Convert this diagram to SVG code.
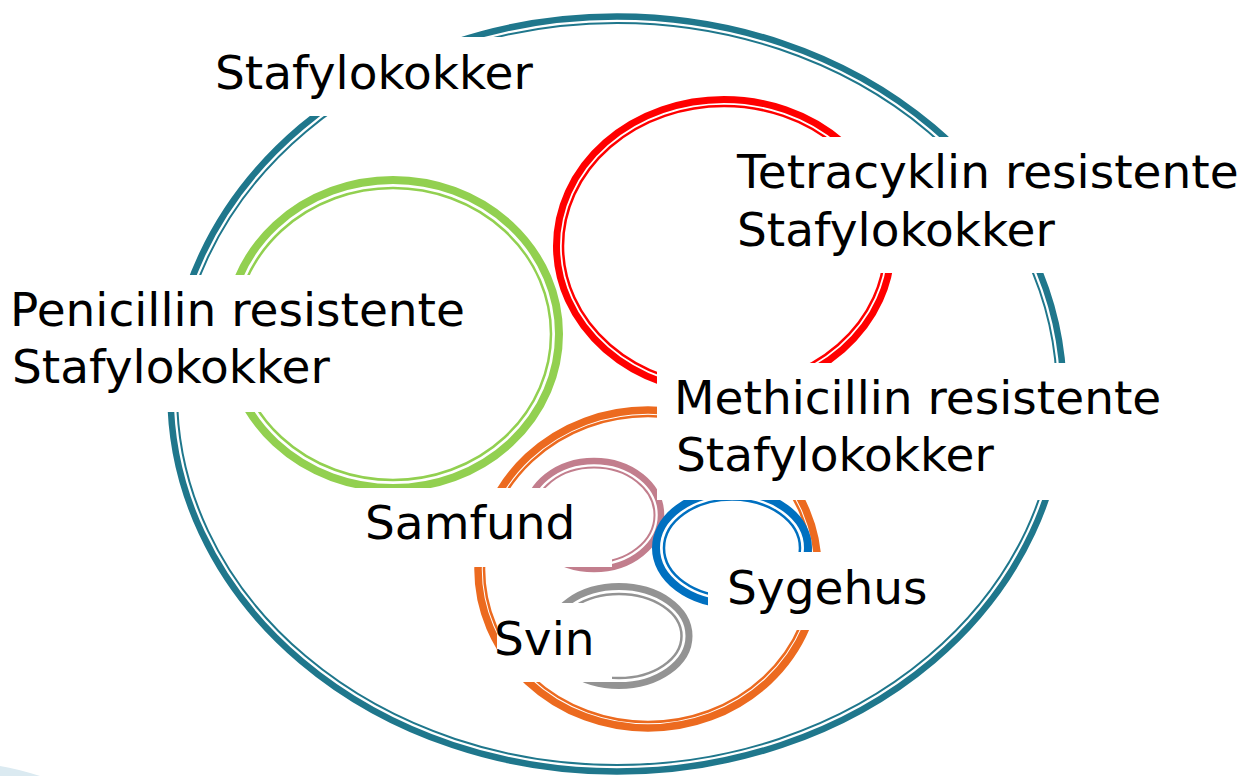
<svg xmlns="http://www.w3.org/2000/svg" width="1240" height="776" viewBox="0 0 1240 776">
<style>
.o{fill:none;stroke-width:7}
.i{fill:none;stroke-width:2.5}
.box{fill:#ffffff}
.lbl{font-family:"DejaVu Sans","Liberation Sans",sans-serif;font-size:47px;fill:#000000}
.teal{stroke:#1f778c}.green{stroke:#92d050}.red{stroke:#ff0000}.orange{stroke:#ec6a1f}.pink{stroke:#c27e8d}.blue{stroke:#0070c0}.gray{stroke:#939393}
</style>
<rect width="1240" height="776" fill="#ffffff"/>
<path d="M0,766 Q18,769 40,776 L0,776 Z" fill="#dbeaf1"/>
<g id="node-stafylokokker">
<ellipse class="o teal" style="stroke-width:6.5" cx="617" cy="394" rx="446.5" ry="377.5"/>
<ellipse class="i teal" style="stroke-width:2" cx="617" cy="394" rx="440" ry="371"/>
</g>
<g id="node-penicillin">
<ellipse class="o green" style="stroke-width:8" cx="393" cy="334" rx="166" ry="154"/>
<ellipse class="i green" cx="393" cy="334" rx="158" ry="146"/>
</g>
<g id="node-tetracyklin">
<ellipse class="o red" cx="724" cy="246" rx="167.5" ry="146.5"/>
<ellipse class="i red" cx="724" cy="246" rx="161" ry="140"/>
</g>
<g id="node-methicillin">
<ellipse class="o orange" style="stroke-width:7.5" cx="648" cy="569" rx="170" ry="159"/>
<ellipse class="i orange" cx="648" cy="569" rx="164" ry="153"/>
</g>
<g id="node-samfund">
<ellipse class="o pink" style="stroke-width:6.5" cx="594" cy="515" rx="67" ry="54"/>
<ellipse class="i pink" style="stroke-width:2" cx="594" cy="515" rx="60.5" ry="47.5"/>
</g>
<g id="node-sygehus">
<ellipse class="o blue" style="stroke-width:8" cx="732" cy="548" rx="76" ry="56"/>
<ellipse class="i blue" cx="732" cy="548" rx="68" ry="48.5"/>
</g>
<g id="node-svin">
<ellipse class="o gray" cx="619" cy="636" rx="70" ry="49.5"/>
<ellipse class="i gray" cx="619" cy="636" rx="62.5" ry="42"/>
</g>
<g id="label-stafylokokker">
<rect class="box" x="205" y="37" width="345" height="79"/>
<text class="lbl" x="215" y="89">Stafylokokker</text>
</g>
<g id="label-tetracyklin">
<rect class="box" x="725" y="137" width="515" height="136"/>
<text class="lbl" x="737" y="188">Tetracyklin resistente</text>
<text class="lbl" x="737" y="246">Stafylokokker</text>
</g>
<g id="label-penicillin">
<rect class="box" x="0" y="275" width="475" height="137"/>
<text class="lbl" x="10" y="326">Penicillin resistente</text>
<text class="lbl" x="12" y="383">Stafylokokker</text>
</g>
<g id="label-methicillin">
<rect class="box" x="657" y="363" width="518" height="137"/>
<text class="lbl" x="674" y="414">Methicillin resistente</text>
<text class="lbl" x="676" y="471">Stafylokokker</text>
</g>
<g id="label-samfund">
<rect class="box" x="348" y="488" width="264" height="79"/>
<text class="lbl" x="365" y="539">Samfund</text>
</g>
<g id="label-sygehus">
<rect class="box" x="708" y="552" width="227" height="78"/>
<text class="lbl" x="727" y="604">Sygehus</text>
</g>
<g id="label-svin">
<rect class="box" x="497" y="603" width="115" height="79"/>
<text class="lbl" x="494" y="655">Svin</text>
</g>
</svg>
